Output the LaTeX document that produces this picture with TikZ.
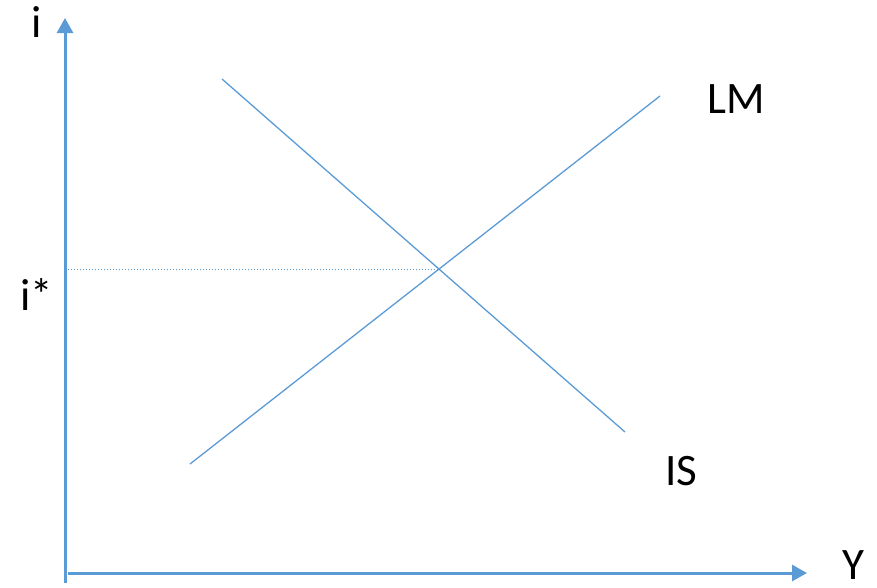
\documentclass[tikz,border=0pt]{standalone}
\usepackage{fontspec}
\setmainfont{Carlito}
\usetikzlibrary{arrows.meta}
\definecolor{axisblue}{RGB}{91,155,213}
\begin{document}
\begin{tikzpicture}[x=1pt,y=-1pt,
  axisline/.style={draw=axisblue,line width=3pt,-{Triangle[length=15pt,width=16pt]}},
  curveline/.style={draw=axisblue,line width=1.3pt},
  guideline/.style={draw=axisblue,line width=1pt,dotted},
  lbl/.style={font=\fontsize{45}{50}\selectfont,anchor=base,inner sep=0pt}]
\useasboundingbox (0,0) rectangle (877,587);
\coordinate (yaxbot) at (65,583);
\coordinate (yaxtop) at (65,18);
\coordinate (xaxleft) at (68,573);
\coordinate (xaxright) at (807,573);
\coordinate (isA) at (222,79);
\coordinate (isB) at (625,432);
\coordinate (lmA) at (190,464);
\coordinate (lmB) at (660,96);
\coordinate (eq) at (439,269);
\coordinate (istar) at (68,269);
\draw[axisline] (yaxbot) -- (yaxtop);
\draw[axisline] (xaxleft) -- (xaxright);
\draw[curveline] (isA) -- (isB);
\draw[curveline] (lmA) -- (lmB);
\draw[guideline] (istar) -- (eq);
\node[lbl] (ilab) at (36.5,37) {i};
\node[lbl] (istarlab) at (37,310) {i*};
\node[lbl] (lmlab) at (736,113) {LM};
\node[lbl] (islab) at (681,485) {IS};
\node[lbl] (ylab) at (853,579) {Y};
\end{tikzpicture}
\end{document}
